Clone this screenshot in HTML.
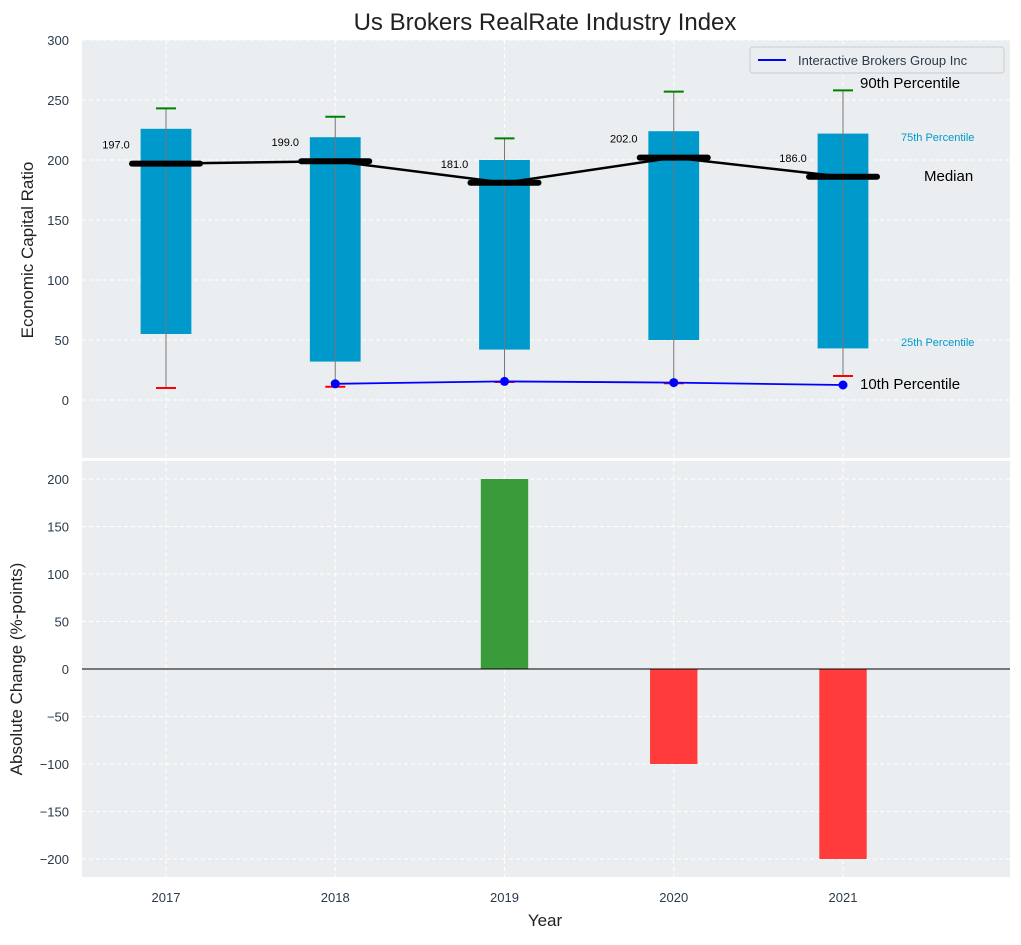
<!DOCTYPE html>
<html><head><meta charset="utf-8">
<style>
body{margin:0;background:#fff;font-family:"Liberation Sans",sans-serif;}
svg text{font-family:"Liberation Sans",sans-serif;}
</style></head>
<body>
<svg id="chart" width="1021" height="940" xmlns="http://www.w3.org/2000/svg"></svg>
<script>
const years=[2017,2018,2019,2020,2021];
const p25=[55,32,42,50,43];
const p75=[226,219,200,224,222];
const p90=[243,236,218,257,258];
const p10=[10,11,15,14,20];
const medians=[197,199,181,202,186];
const companyYears=[2018,2019,2020,2021];
const companyVals=[13.5,15.5,14.5,12.5];
const changeYears=[2019,2020,2021];
const changeVals=[200,-100,-200];
const topTicks=[0,50,100,150,200,250,300];
const botTicks=[-200,-150,-100,-50,0,50,100,150,200];

const NS="http://www.w3.org/2000/svg";
const svg=document.getElementById('chart');
function el(tag,attrs,parent){const e=document.createElementNS(NS,tag);for(const k in attrs)e.setAttribute(k,attrs[k]);(parent||svg).appendChild(e);return e;}
const X0=82,X1=1010;
const PX=169.25;
const x=v=>166+(v-2017)*PX;
const yT=v=>400-v*1.2;
const yB=v=>669-v*0.95;

let r=el('rect',{x:X0,y:40,width:X1-X0,height:418,fill:'#eaeef0'});

r=el('rect',{x:X0,y:461,width:X1-X0,height:416,fill:'#eaeef0'});


years.forEach(yr=>{
  [[40,458],[461,877]].forEach(([a,b])=>{
    const g=el('line',{x1:x(yr),x2:x(yr),y1:a,y2:b,stroke:'#fff','stroke-dasharray':'4,3','stroke-width':1});
    
  });
  const t=el('text',{x:x(yr),y:902,'text-anchor':'middle','font-size':13,fill:'#2a3a4a'});t.textContent=yr;
  
});
topTicks.forEach(v=>{
  const g=el('line',{x1:X0,x2:X1,y1:yT(v),y2:yT(v),stroke:'#fff','stroke-dasharray':'4,3'});
  
  const t=el('text',{x:69,y:yT(v)+5,'text-anchor':'end','font-size':13,fill:'#2a3a4a'});t.textContent=v;
  
});
botTicks.forEach(v=>{
  const g=el('line',{x1:X0,x2:X1,y1:yB(v),y2:yB(v),stroke:'#fff','stroke-dasharray':'4,3'});
  
  const t=el('text',{x:69,y:yB(v)+5,'text-anchor':'end','font-size':13,fill:'#2a3a4a'});t.textContent=v<0?'\u2212'+(-v):v;
  
});

const bw=PX*0.3;
years.forEach((yr,i)=>{
  const b=el('rect',{x:x(yr)-bw/2,y:yT(p75[i]),width:bw,height:yT(p25[i])-yT(p75[i]),fill:'#0099cc'});
  
  const w=el('line',{x1:x(yr),x2:x(yr),y1:yT(p10[i]),y2:yT(p90[i]),stroke:'#777','stroke-width':1});
  
  const c1=el('line',{x1:x(yr)-10,x2:x(yr)+10,y1:yT(p90[i]),y2:yT(p90[i]),stroke:'green','stroke-width':2});
  
  const c2=el('line',{x1:x(yr)-10,x2:x(yr)+10,y1:yT(p10[i]),y2:yT(p10[i]),stroke:'red','stroke-width':2});
  
});
let pts=years.map((yr,i)=>x(yr)+','+yT(medians[i])).join(' ');
let ml=el('polyline',{points:pts,fill:'none',stroke:'#000','stroke-width':2.5});

years.forEach((yr,i)=>{
  const m=el('line',{x1:x(yr)-34,x2:x(yr)+34,y1:yT(medians[i]),y2:yT(medians[i]),stroke:'#000','stroke-width':6,'stroke-linecap':'round'});
  
  const t=el('text',{x:x(yr)-50,y:yT(medians[i])-15,'text-anchor':'middle','font-size':11,fill:'#000'});t.textContent=medians[i].toFixed(1);
  
});
pts=companyYears.map((yr,i)=>x(yr)+','+yT(companyVals[i])).join(' ');
let cl=el('polyline',{points:pts,fill:'none',stroke:'#0000ff','stroke-width':1.8});

companyYears.forEach((yr,i)=>{
  const d=el('circle',{cx:x(yr),cy:yT(companyVals[i]),r:4.5,fill:'#0000ff'});
  
});
[['90th Percentile',860,88,15,'#000'],['75th Percentile',901,141,11,'#0099cc'],['Median',924,181,15,'#000'],['25th Percentile',901,346,11,'#0099cc'],['10th Percentile',860,389,15,'#000']].forEach(a=>{
  const t=el('text',{x:a[1],y:a[2],'font-size':a[3],fill:a[4]});t.textContent=a[0];
  
});
let lg=el('rect',{x:750,y:47,width:254,height:26,fill:'#eaeef0',stroke:'#ccc',rx:3});

let ll=el('line',{x1:758,x2:786,y1:60,y2:60,stroke:'#0000ff','stroke-width':2});

let lt=el('text',{x:798,y:65,'font-size':13,fill:'#2a3a4a'});lt.textContent='Interactive Brokers Group Inc';


const cbw=PX*0.28;
changeYears.forEach((yr,i)=>{
  const v=changeVals[i];
  const b=el('rect',{x:x(yr)-cbw/2,y:Math.min(yB(v),yB(0)),width:cbw,height:Math.abs(yB(v)-yB(0)),fill:v>=0?'#3a9b3a':'#ff3b3b'});
  
});
let zl=el('line',{x1:X0,x2:X1,y1:yB(0),y2:yB(0),stroke:'#000','stroke-width':1});


let tt=el('text',{x:545,y:30,'text-anchor':'middle','font-size':24,fill:'#222'});tt.textContent='Us Brokers RealRate Industry Index';

let xt=el('text',{x:545,y:926,'text-anchor':'middle','font-size':17,fill:'#222'});xt.textContent='Year';

let y1=el('text',{x:0,y:0,'text-anchor':'middle','font-size':17,fill:'#222',transform:'translate(33,250) rotate(-90)'});y1.textContent='Economic Capital Ratio';

let y2=el('text',{x:0,y:0,'text-anchor':'middle','font-size':17,fill:'#222',transform:'translate(22,669) rotate(-90)'});y2.textContent='Absolute Change (%-points)';

</script>
</body></html>
